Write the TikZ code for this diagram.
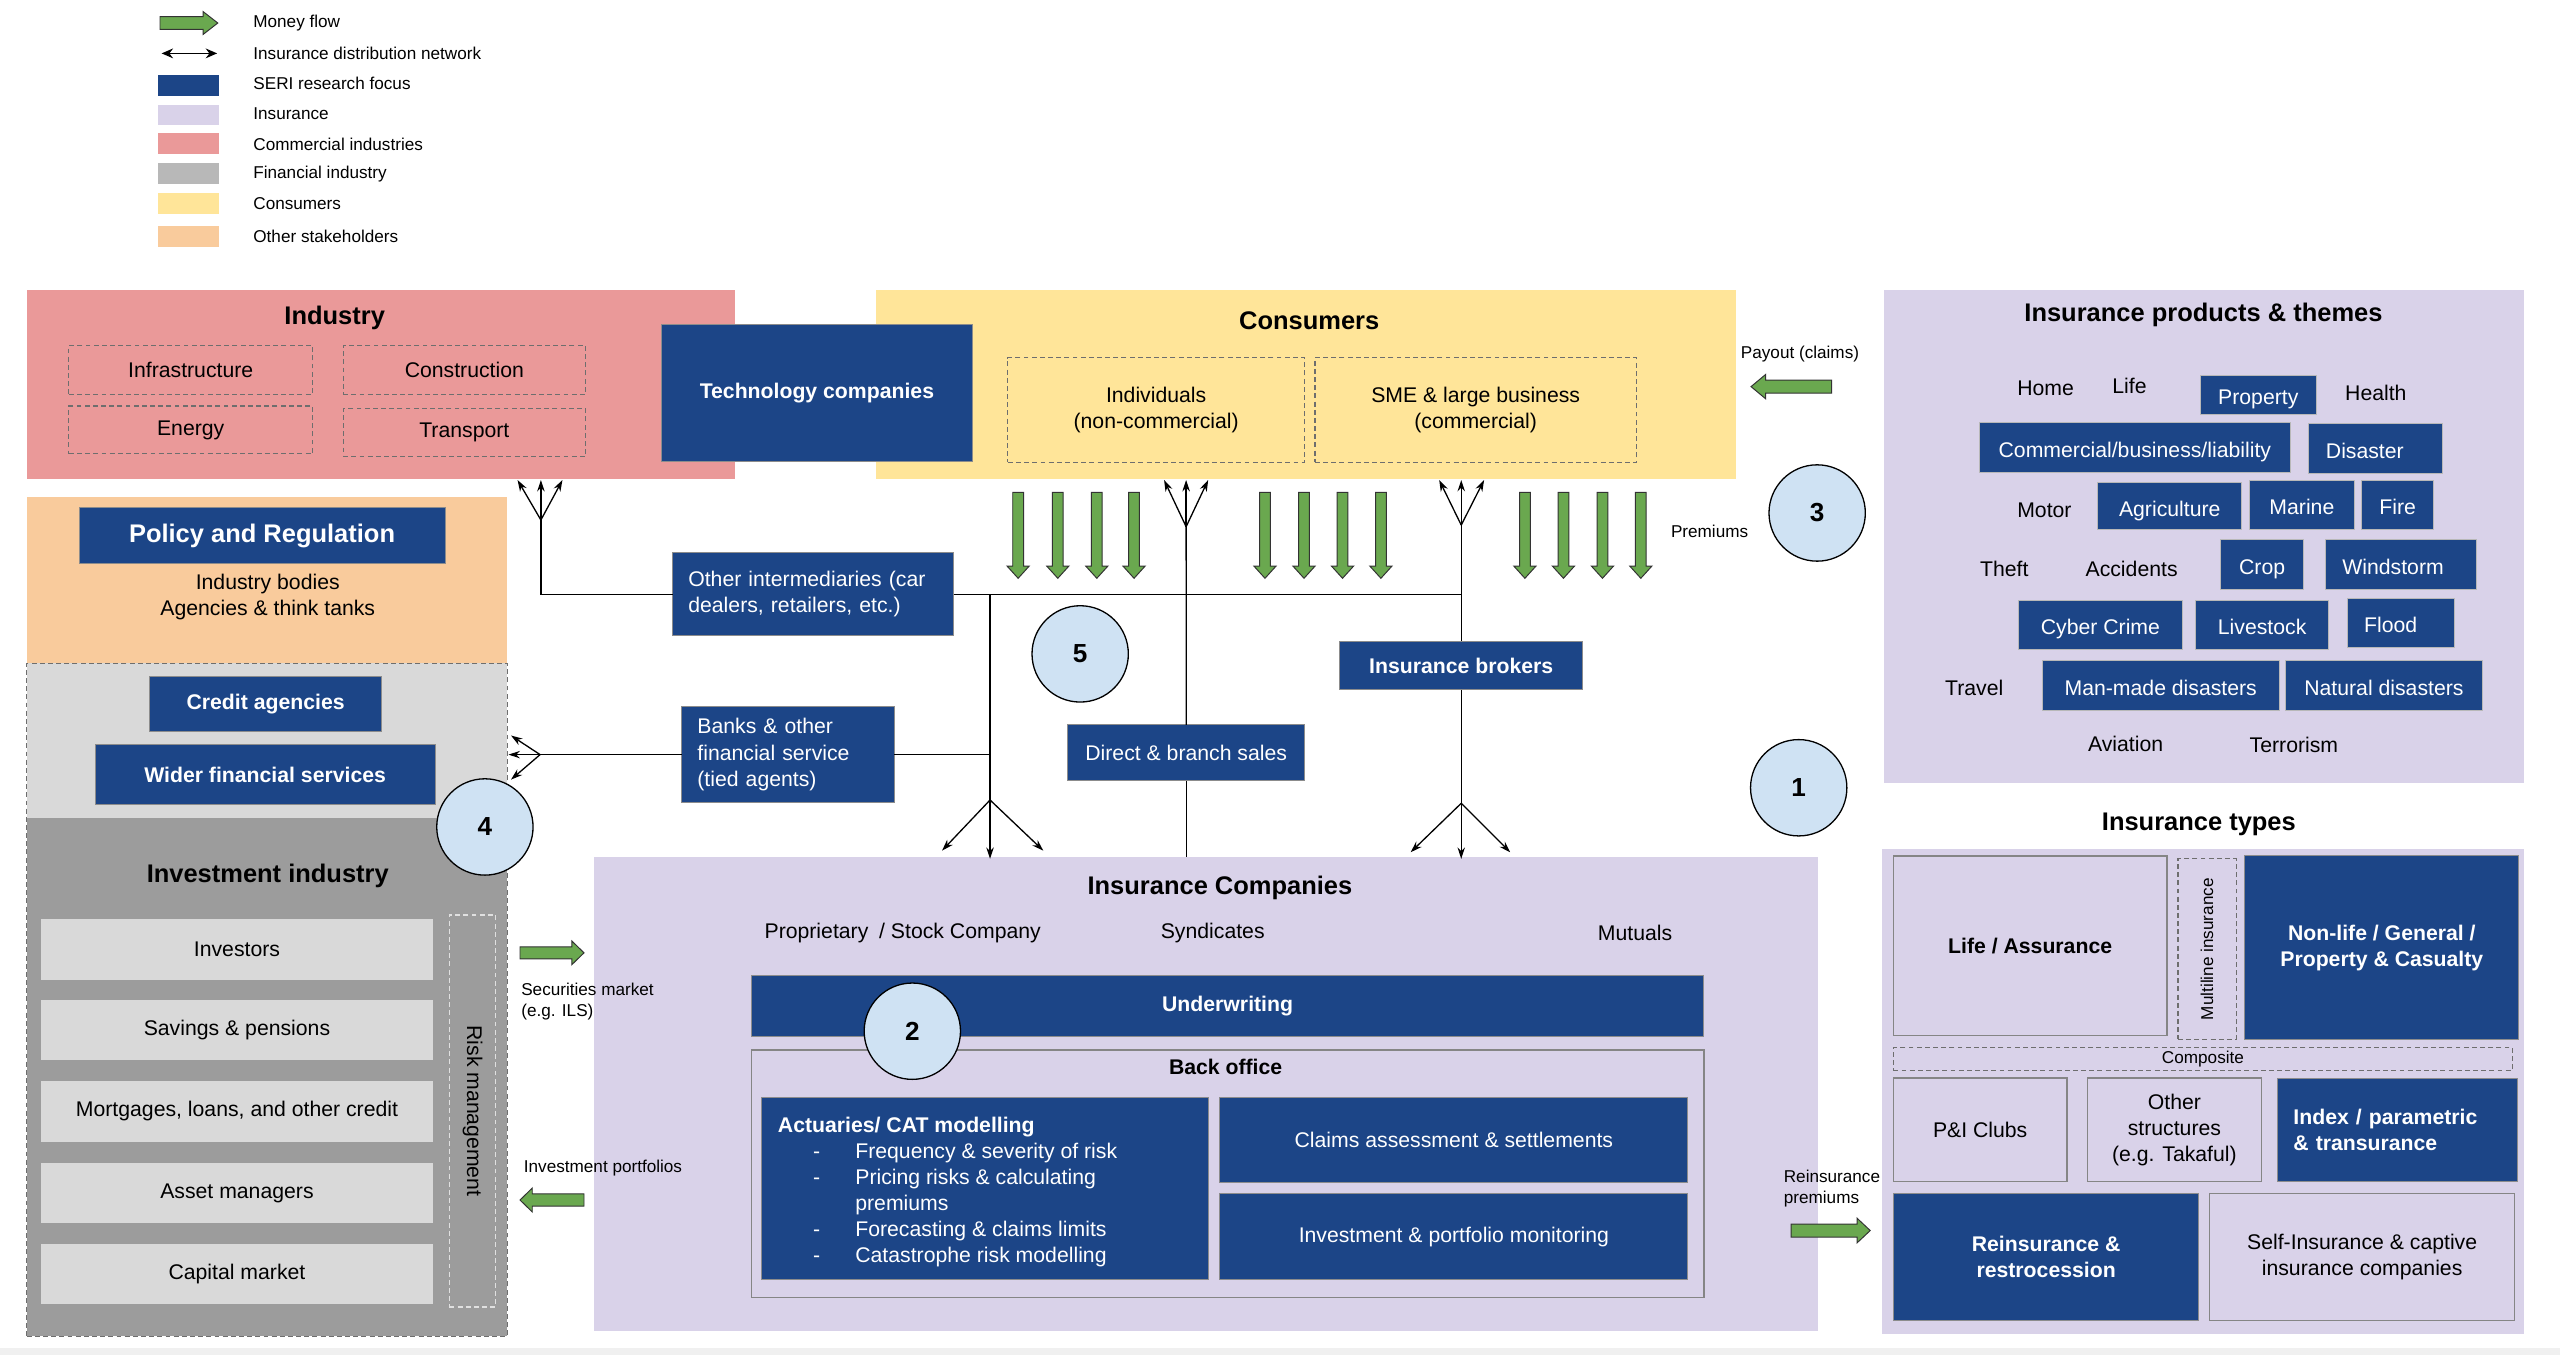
\documentclass[tikz,border=0pt]{standalone}
\usepackage{fontspec}
\setmainfont{Liberation Sans}
\usetikzlibrary{arrows.meta}
\definecolor{seri}{HTML}{1C4587}
\definecolor{insur}{HTML}{D9D2E9}
\definecolor{indus}{HTML}{EA9999}
\definecolor{finl}{HTML}{D9D9D9}
\definecolor{find}{HTML}{9C9C9C}
\definecolor{cons}{HTML}{FFE599}
\definecolor{othr}{HTML}{F9CB9C}
\definecolor{money}{HTML}{6AA84F}
\definecolor{circ}{HTML}{CFE2F3}
\definecolor{dashc}{HTML}{6E6E6E}
\definecolor{boxedge}{HTML}{858585}
\newcommand\fsm{\fontsize{10.5}{13}\selectfont}
\newcommand\fbd{\fontsize{13}{16}\selectfont}
\newcommand\fhd{\fontsize{15.6}{18}\selectfont\bfseries}
\newcommand\abul{\hspace*{21.5pt}\makebox[25.9pt][l]{-}}
% box: [style]{name}{x1}{y1}{x2}{y2}{text}
\newcommand\bxx[7][]{\node[#1,minimum width={#5-#3},minimum height={#6-#4}] (#2) at ({(#3+#5)/2},{(#4+#6)/2}) {#7};}
% right-pointing green arrow: xl, xtip, yc, body half, head half, head length
\newcommand\garR[6]{\draw[mflow] (#1,{#3-#4}) -- ({#2-#6},{#3-#4}) -- ({#2-#6},{#3-#5}) -- (#2,#3) -- ({#2-#6},{#3+#5}) -- ({#2-#6},{#3+#4}) -- (#1,{#3+#4}) -- cycle;}
% left-pointing green arrow: xtip, xr, yc, body half, head half, head length
\newcommand\garL[6]{\draw[mflow] (#2,{#3-#4}) -- ({#1+#6},{#3-#4}) -- ({#1+#6},{#3-#5}) -- (#1,#3) -- ({#1+#6},{#3+#5}) -- ({#1+#6},{#3+#4}) -- (#2,{#3+#4}) -- cycle;}
% down-pointing green arrow: x, ytop, ytip
\newcommand\garD[3]{\draw[mflow] ({#1-3.3},#2) -- ({#1+3.3},#2) -- ({#1+3.3},{#3-7.5}) -- ({#1+6.8},{#3-7.5}) -- (#1,#3) -- ({#1-6.8},{#3-7.5}) -- ({#1-3.3},{#3-7.5}) -- cycle;}
\begin{document}
\begin{tikzpicture}[x=1pt,y=-1pt,
  area/.style={inner sep=0pt,outer sep=0pt,draw=none},
  seribox/.style={area,fill=seri,draw=black!45,line width=0.6pt,text=white,font=\fbd,align=center},
  tagbox/.style={seribox,draw=black!28,text height=15pt,text depth=2.8pt},
  dbox/.style={area,draw=dashc,dash pattern=on 3pt off 2pt,line width=0.7pt,font=\fbd,align=center},
  lbox/.style={area,fill=insur,draw=boxedge,line width=0.8pt,font=\fbd,align=center},
  gitem/.style={area,fill=finl,font=\fbd},
  ttl/.style={font=\fhd,inner sep=0pt},
  txt/.style={font=\fbd,inner sep=0pt,align=center},
  stxt/.style={font=\fsm,inner sep=0pt,align=left},
  num/.style={circle,fill=circ,draw=black,line width=0.8pt,minimum size=59pt,inner sep=0pt,font=\fontsize{16}{18}\selectfont\bfseries},
  net/.style={line width=0.8pt},
  tip/.style={net,-{Stealth[length=7pt,width=4.6pt]}},
  mflow/.style={fill=money,draw=black!80,line width=0.6pt,line join=miter},
]
\useasboundingbox (0,0) rectangle (1568,830);
\fill[white] (0,0) rectangle (1568,830);
\fill[black!6] (0,825.5) rectangle (1568,830);

%% ---------- Legend ----------
\garR{98}{133.4}{14.1}{3.9}{7}{9}
\coordinate (lgL) at (99,32.7);
\coordinate (lgR) at (133,32.7);
\draw[net,{Stealth[length=7pt,width=6pt]}-{Stealth[length=7pt,width=6pt]}] (lgL) -- (lgR);
\fill[seri] (97,45.9) rectangle (134,58.6);
\fill[insur] (97,64.3) rectangle (134,76.8);
\fill[indus] (97,81.6) rectangle (134,94.3);
\fill[black!28] (97,100) rectangle (134,112.7);
\fill[cons] (97,118.4) rectangle (134,130.9);
\fill[othr] (97,138.4) rectangle (134,151.1);
\node[stxt,anchor=west] (lg1) at (155,13.9) {Money flow};
\node[stxt,anchor=west] (lg2) at (155,32.7) {Insurance distribution network};
\node[stxt,anchor=west] (lg3) at (155,51) {SERI research focus};
\node[stxt,anchor=west] (lg4) at (155,69.4) {Insurance};
\node[stxt,anchor=west] (lg5) at (155,88.2) {Commercial industries};
\node[stxt,anchor=west] (lg6) at (155,106.6) {Financial industry};
\node[stxt,anchor=west] (lg7) at (155,125) {Consumers};
\node[stxt,anchor=west] (lg8) at (155,145) {Other stakeholders};

%% ---------- Industry ----------
\bxx[area,fill=indus]{industry}{16.4}{177.6}{450}{293.4}{}
\node[ttl] (industryT) at (205,194.9) {Industry};
\bxx[dbox]{infra}{42.2}{211.7}{191.4}{241.5}{Infrastructure}
\bxx[dbox]{constr}{210.2}{211.7}{358.6}{241.5}{Construction}
\bxx[dbox]{energy}{42.2}{248.7}{191.4}{278}{Energy}
\bxx[dbox]{transp}{210.2}{250.3}{358.6}{279.7}{Transport}

%% ---------- Consumers ----------
\bxx[area,fill=cons]{consumers}{536.4}{177.6}{1063}{293.4}{}
\node[ttl] (consumersT) at (801.9,196.4) {Consumers};
\bxx[dbox]{indiv}{617.3}{219}{799}{283.2}{Individuals\\(non-commercial)}
\bxx[dbox]{sme}{805.4}{219}{1002.3}{283.2}{SME \& large business\\(commercial)}
\bxx[seribox,font=\fbd\bfseries]{tech}{405}{198.5}{595.7}{282.4}{Technology companies}

%% ---------- Insurance products ----------
\bxx[area,fill=insur]{products}{1153.8}{177.6}{1545.8}{479.8}{}
\node[ttl] (productsT) at (1349.6,192.9) {Insurance products \& themes};
\node[txt] (pHome) at (1252.9,237.9) {Home};
\node[txt] (pLife) at (1304.3,236.4) {Life};
\node[txt] (pHealth) at (1455.2,240.5) {Health};
\node[txt] (pMotor) at (1252.2,312.4) {Motor};
\node[txt] (pTheft) at (1227.6,348.7) {Theft};
\node[txt] (pAcc) at (1305.6,348.7) {Accidents};
\node[txt] (pTravel) at (1209.2,421.6) {Travel};
\node[txt] (pAviation) at (1301.9,455.7) {Aviation};
\node[txt] (pTerror) at (1405,456.3) {Terrorism};
\bxx[tagbox]{tProperty}{1347.6}{229.7}{1418.8}{253.8}{Property}
\bxx[tagbox]{tComm}{1212.5}{258.9}{1402.7}{289.3}{Commercial/business/liability}
\bxx[tagbox]{tDisaster}{1414.1}{259.3}{1495.8}{289.9}{Disaster\hspace*{13pt}}
\bxx[tagbox]{tAgri}{1284.8}{295.6}{1373.1}{324.6}{Agriculture}
\bxx[tagbox]{tMarine}{1377.5}{294}{1442.3}{324.6}{Marine}
\bxx[tagbox]{tFire}{1446.4}{294}{1490.7}{324.6}{Fire}
\bxx[tagbox]{tCrop}{1360.3}{330.3}{1410.8}{361}{Crop}
\bxx[tagbox]{tWind}{1424.5}{330.3}{1517}{361}{Windstorm\hspace*{10pt}}
\bxx[tagbox]{tCyber}{1236.1}{367.5}{1336.9}{397.7}{Cyber Crime}
\bxx[tagbox]{tLive}{1344.9}{367.5}{1426.2}{397.7}{Livestock}
\bxx[tagbox]{tFlood}{1438}{366.5}{1503.5}{396.5}{Flood\hspace*{13pt}}
\bxx[tagbox]{tMan}{1250.9}{404.6}{1396}{434.9}{Man-made disasters}
\bxx[tagbox]{tNat}{1400}{404.6}{1520.3}{434.9}{Natural disasters}

%% ---------- Policy ----------
\bxx[area,fill=othr]{policy}{16.4}{304.6}{310.8}{406.3}{}
\bxx[seribox,font=\fhd]{policyT}{48.4}{311}{272.6}{345}{Policy and Regulation}
\node[txt] (bodies) at (164,365.5) {Industry bodies\\Agencies \& think tanks};

%% ---------- Financial / investment ----------
\bxx[area,fill=finl]{finan}{16.4}{406.3}{310.8}{500.9}{}
\bxx[area,fill=find]{invest}{16.4}{500.9}{310.8}{818.5}{}
\bxx[area,draw=dashc,dash pattern=on 3pt off 2pt,line width=0.7pt]{finframe}{16.4}{406.3}{310.8}{818.5}{}
\bxx[seribox,font=\fbd\bfseries]{credit}{91.6}{414.3}{233.8}{447.9}{Credit agencies}
\bxx[seribox,font=\fbd\bfseries]{wider}{58.2}{456.2}{266.6}{492.5}{Wider financial services}
\node[ttl] (investT) at (164,536.4) {Investment industry};
\bxx[gitem]{iInv}{25.1}{562.9}{265.2}{600}{Investors}
\bxx[gitem]{iSav}{25.1}{612.6}{265.2}{649.5}{Savings \& pensions}
\bxx[gitem]{iMort}{25.1}{662.3}{265.2}{699.2}{Mortgages, loans, and other credit}
\bxx[gitem]{iAsset}{25.1}{712.3}{265.2}{749}{Asset managers}
\bxx[gitem]{iCap}{25.1}{762}{265.2}{798.4}{Capital market}
\bxx[area,draw=black!12,dash pattern=on 3pt off 2pt,line width=0.8pt]{risk}{275.3}{560.4}{303.5}{800.5}{}
\node[txt,rotate=-90] (riskT) at (risk.center) {Risk management};

%% ---------- Insurance companies ----------
\bxx[area,fill=insur]{inscos}{364}{524.7}{1113.4}{815}{}
\node[ttl] (inscosT) at (747.2,544.1) {Insurance Companies};
\node[txt] (cProp) at (552.9,571.6) {Proprietary\hspace{3pt} / Stock Company};
\node[txt] (cSynd) at (742.8,571.6) {Syndicates};
\node[txt] (cMut) at (1001.5,571.6) {Mutuals};
\bxx[seribox,font=\fbd\bfseries]{underw}{460.2}{597.6}{1043.6}{635}{Underwriting}
\bxx[area,draw=boxedge,line width=1pt]{backoff}{460.2}{643.1}{1043.6}{794.6}{}
\node[txt,font=\fbd\bfseries] (backoffT) at (750.7,653.3) {Back office};
\bxx[seribox]{actu}{466.5}{672.3}{739.9}{783.6}{}
\node[txt,text=white,align=left,anchor=west] (actuT) at (476.3,730.2) {\textbf{Actuaries/ CAT modelling}\\
\abul Frequency \& severity of risk\\
\abul Pricing risks \& calculating\\
\hspace*{47.4pt}premiums\\
\abul Forecasting \& claims limits\\
\abul Catastrophe risk modelling};
\bxx[seribox]{claims}{747.2}{672.3}{1033.8}{724.4}{Claims assessment \& settlements}
\bxx[seribox]{portf}{747.2}{731.3}{1033.8}{783.6}{Investment \& portfolio monitoring}

%% ---------- Insurance types ----------
\node[ttl] (typesT) at (1346.8,504.7) {Insurance types};
\bxx[area,fill=insur]{types}{1153}{520}{1546}{816.9}{}
\bxx[lbox,font=\fbd\bfseries]{life}{1159.7}{524.2}{1327.2}{634.3}{Life / Assurance}
\bxx[area,draw=dashc,dash pattern=on 3pt off 2pt,line width=0.7pt]{multi}{1334}{526}{1369.6}{636.6}{}
\node[stxt,rotate=90] (multiT) at (multi.center) {Multiline insurance};
\bxx[seribox,font=\fbd\bfseries]{nonlife}{1375}{524.2}{1542.7}{636.6}{Non-life / General /\\Property \& Casualty}
\bxx[dbox,font=\fsm]{composite}{1159.7}{641.7}{1538.9}{655.6}{Composite}
\bxx[lbox]{pandi}{1159.7}{660.3}{1266}{723.6}{P\&I Clubs}
\bxx[lbox]{otherst}{1278.5}{660.3}{1385.1}{723.6}{Other\\structures\\(e.g. Takaful)}
\bxx[seribox,font=\fbd\bfseries,align=left,text width=127.4pt]{index}{1394.9}{660.3}{1541.9}{723.6}{Index / parametric\\\& transurance}
\bxx[seribox,font=\fbd\bfseries]{reins}{1159.7}{730.9}{1346.8}{809}{Reinsurance \&\\restrocession}
\bxx[lbox]{selfins}{1353.3}{730.9}{1540.3}{809}{Self-Insurance \& captive\\insurance companies}

%% ---------- Distribution network ----------
\bxx[seribox,align=left,text width=153pt]{othint}{412.1}{338.5}{584.1}{389.5}{Other intermediaries (car dealers, retailers, etc.)}
\bxx[seribox,align=left,text width=111pt]{banks}{417.7}{432.8}{547.6}{491.6}{Banks \& other\\financial service\\(tied agents)}
\bxx[seribox]{direct}{653.9}{444}{799.2}{478.3}{Direct \& branch sales}
\bxx[seribox,font=\fbd\bfseries]{brokers}{820.7}{392.6}{969.3}{422.6}{Insurance brokers}

% fan to industry
\coordinate (f1a) at (331.3,318.5);
\coordinate (f1l) at (317,294);
\coordinate (f1m) at (331.3,294);
\coordinate (f1r) at (344.5,294);
\draw[net] (othint.west) -| (f1a);
\foreach \t in {f1l,f1m,f1r} \draw[tip] (f1a) -- (\t);
% horizontal to brokers branch
\coordinate (f3a) at (895,321.6);
\coordinate (f3l) at (881.5,294);
\coordinate (f3m) at (895,294);
\coordinate (f3r) at (909,294);
\draw[net] (othint.east) -- (othint.east -| f3a);
\draw[net] (f3a) -- (brokers.north);
\foreach \t in {f3l,f3m,f3r} \draw[tip] (f3a) -- (\t);
% left vertical to insurance companies
\coordinate (vj) at (606.4,364);
\coordinate (f4a) at (606.4,490);
\coordinate (f4l) at (577,521);
\coordinate (f4m) at (606.4,526);
\coordinate (f4r) at (639,521);
\draw[net] (vj) -- (f4a);
\foreach \t in {f4l,f4m,f4r} \draw[tip] (f4a) -- (\t);
\draw[net] (banks.east) -- (banks.east -| vj);
% banks to financial services
\coordinate (f5a) at (330.8,462.2);
\coordinate (f5l) at (313,450.5);
\coordinate (f5m) at (311.5,462.2);
\coordinate (f5r) at (313,477.5);
\draw[net] (banks.west) -- (f5a);
\foreach \t in {f5l,f5m,f5r} \draw[tip] (f5a) -- (\t);
% direct sales
\coordinate (f2a) at (726.5,322.6);
\coordinate (f2l) at (713,294);
\coordinate (f2m) at (726.5,294);
\coordinate (f2r) at (740,294);
\draw[net] (f2a) -- (direct.north);
\foreach \t in {f2l,f2m,f2r} \draw[tip] (f2a) -- (\t);
\draw[net] (direct.south) -- (direct.south |- inscos.north);
% brokers to insurance companies
\coordinate (f6a) at (895,492);
\coordinate (f6l) at (864,522);
\coordinate (f6m) at (895,526);
\coordinate (f6r) at (925,522);
\draw[net] (brokers.south) -- (f6a);
\foreach \t in {f6l,f6m,f6r} \draw[tip] (f6a) -- (\t);

%% ---------- Money flows ----------
\foreach \gx in {623.6,647.9,671.8,694.6,774.8,798.7,822.3,845.8,934,957.6,981.5,1005} {\garD{\gx}{301.6}{354.2}}
\garL{1072.5}{1121.8}{236.8}{4}{7.5}{9}
\garR{318.5}{357.7}{583.6}{3.7}{7.3}{7.5}
\garL{318.5}{357.7}{735}{3.7}{7.3}{7.5}
\garR{1097}{1145.5}{753.7}{4}{7.5}{8}
\node[stxt,anchor=center] (payoutT) at (1102.5,216.8) {Payout (claims)};
\node[stxt,anchor=west] (premT) at (1023.3,325.6) {Premiums};
\node[stxt,anchor=west] (secT) at (319.1,613.3) {Securities market\\(e.g. ILS)};
\node[stxt,anchor=west] (portT) at (320.7,715.4) {Investment portfolios};
\node[stxt,anchor=west] (reinpT) at (1092.4,727.9) {Reinsurance\\premiums};

%% ---------- Numbered circles ----------
\node[num] (n1) at (1101.7,482.5) {1};
\node[num] (n2) at (558.8,631.6) {2};
\node[num] (n3) at (1113,314.2) {3};
\node[num] (n4) at (297,506.5) {4};
\node[num] (n5) at (661.6,400.5) {5};
\end{tikzpicture}
\end{document}
